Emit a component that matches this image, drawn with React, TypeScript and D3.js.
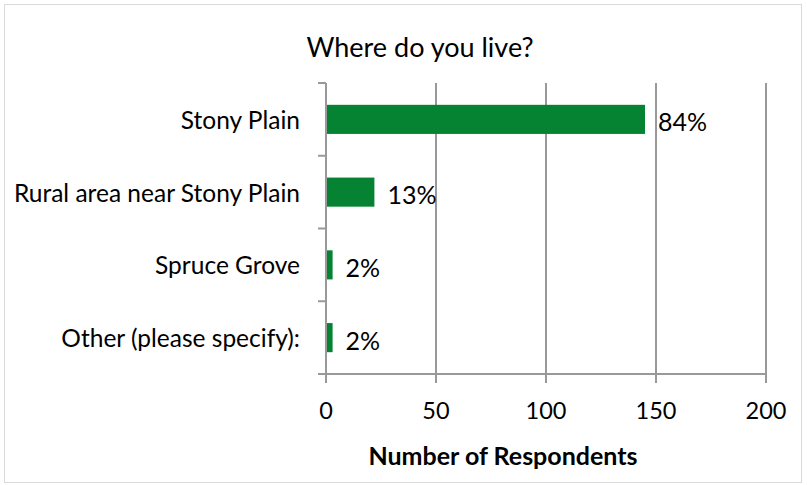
import React, { useEffect, useRef } from 'react';
import * as d3 from 'd3';

const categories = ['Stony Plain', 'Rural area near Stony Plain', 'Spruce Grove', 'Other (please specify):'];
const respondents = [145, 22, 3, 3];
const percentLabels = ['84%', '13%', '2%', '2%'];
const xTicks = [0, 50, 100, 150, 200];

const W = 807;
const H = 485;
const FONT = 'Lato, "Open Sans", sans-serif';

const App = () => {
  const ref = useRef<SVGSVGElement>(null);

  useEffect(() => {
    const svg = d3.select(ref.current);
    svg.selectAll('*').remove();

    const left = 326, right = 766, top = 83, bottom = 374;

    const x = d3.scaleLinear().domain([0, 200]).range([left, right]);
    const y = d3.scaleBand().domain(categories).range([top, bottom]).paddingInner(0.6).paddingOuter(0.3);
    const band = d3.scaleBand().domain(categories).range([top, bottom]);

    // outer border
    svg.append('rect')
      .attr('x', 4.5).attr('y', 4.5)
      .attr('width', 797).attr('height', 478)
      .attr('fill', '#fff')
      .attr('stroke', '#d9d9d9');

    svg.append('text')
      .attr('x', 420).attr('y', 46)
      .attr('text-anchor', 'middle')
      .attr('dominant-baseline', 'central')
      .attr('font-family', FONT)
      .attr('font-size', 27)
      .text('Where do you live?');

    const grey = '#999';

    // vertical gridlines + ticks
    svg.append('g').selectAll('line')
      .data(xTicks)
      .enter()
      .append('line')
      .attr('x1', d => x(d)).attr('x2', d => x(d))
      .attr('y1', top)
      .attr('y2', bottom + 9)
      .attr('stroke', grey)
      .attr('stroke-width', 2);

    // bottom axis line
    svg.append('line')
      .attr('x1', left - 8).attr('x2', right)
      .attr('y1', bottom).attr('y2', bottom)
      .attr('stroke', grey).attr('stroke-width', 2);

    // category ticks
    const bounds = categories.map(c => band(c) as number).concat([bottom]);
    svg.append('g').selectAll('line')
      .data(bounds)
      .enter()
      .append('line')
      .attr('x1', left - 8).attr('x2', left)
      .attr('y1', d => d).attr('y2', d => d)
      .attr('stroke', grey).attr('stroke-width', 2);

    // bars
    svg.append('g').selectAll('rect')
      .data(respondents)
      .enter()
      .append('rect')
      .attr('x', x(0) + 1)
      .attr('y', (d, i) => y(categories[i]) as number)
      .attr('width', d => x(d) - x(0) - 1)
      .attr('height', y.bandwidth())
      .attr('fill', '#058332');

    // value labels
    svg.append('g').selectAll('text')
      .data(respondents)
      .enter()
      .append('text')
      .attr('x', d => x(d) + 13)
      .attr('y', (d, i) => (y(categories[i]) as number) + y.bandwidth() / 2 + 2)
      .attr('dominant-baseline', 'central')
      .attr('font-family', FONT)
      .attr('font-size', 25)
      .text((d, i) => percentLabels[i]);

    // category labels
    svg.append('g').selectAll('text')
      .data(categories)
      .enter()
      .append('text')
      .attr('x', 300)
      .attr('y', d => (band(d) as number) + band.bandwidth() / 2)
      .attr('text-anchor', 'end')
      .attr('dominant-baseline', 'central')
      .attr('font-family', FONT)
      .attr('font-size', 24.5)
      .text(d => d);

    // x tick labels
    svg.append('g').selectAll('text')
      .data(xTicks)
      .enter()
      .append('text')
      .attr('x', d => x(d))
      .attr('y', 410)
      .attr('text-anchor', 'middle')
      .attr('dominant-baseline', 'central')
      .attr('font-family', FONT)
      .attr('font-size', 23.5)
      .text(d => d);

    svg.append('text')
      .attr('x', 503).attr('y', 455)
      .attr('text-anchor', 'middle')
      .attr('dominant-baseline', 'central')
      .attr('font-family', FONT)
      .attr('font-size', 25)
      .attr('font-weight', 'bold')
      .text('Number of Respondents');
  }, []);

  return (
    <svg ref={ref} width={W} height={H} style={{ position: 'absolute', left: 0, top: 0 }} />
  );
};

export default App;
